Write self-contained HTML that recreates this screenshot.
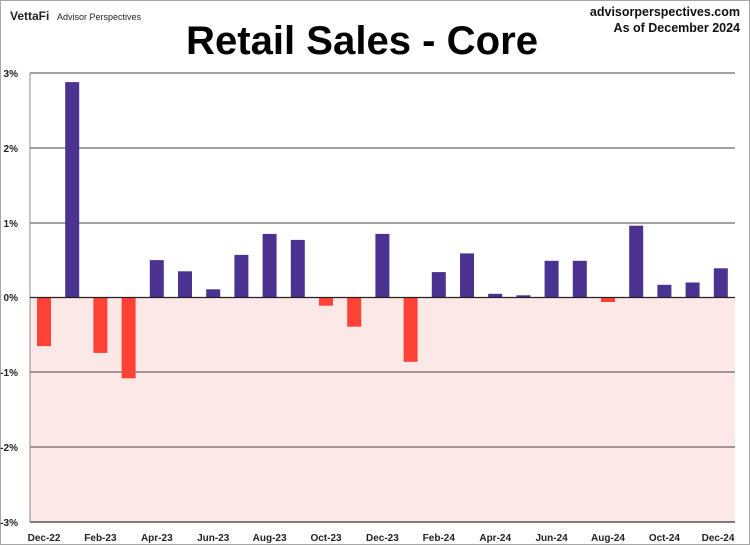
<!DOCTYPE html>
<html><head><style>
body{margin:0;background:#fff}
svg{display:block;font-family:"Liberation Sans",Arial,sans-serif}
</style></head><body>
<svg width="750" height="545" viewBox="0 0 750 545">
<rect x="0.5" y="0.5" width="749" height="544" fill="#fff" stroke="#a6a6a6"/>
<text x="10" y="20" font-size="12" font-weight="bold" fill="#222">VettaFi</text>
<text x="57" y="20" font-size="9" fill="#222">Advisor Perspectives</text>
<text x="740" y="16" font-size="12.5" font-weight="bold" text-anchor="end" fill="#111">advisorperspectives.com</text>
<text x="740" y="32" font-size="12.5" font-weight="bold" text-anchor="end" fill="#111">As of December 2024</text>
<text x="362" y="54" font-size="40" font-weight="bold" text-anchor="middle" fill="#000" textLength="352" lengthAdjust="spacingAndGlyphs">Retail Sales - Core</text>
<rect x="30" y="297.5" width="705" height="224.5" fill="#fde8e8"/>
<g stroke="#444" stroke-width="1">
<line x1="30" y1="73" x2="735" y2="73"/>
<line x1="30" y1="148" x2="735" y2="148"/>
<line x1="30" y1="223" x2="735" y2="223"/>
<line x1="30" y1="372" x2="735" y2="372"/>
<line x1="30" y1="447" x2="735" y2="447"/>
</g>
<line x1="30" y1="522" x2="735" y2="522" stroke="#555" stroke-width="1.5"/>
<line x1="30" y1="73" x2="30" y2="522" stroke="#888"/>
<g font-size="10" font-weight="bold" fill="#222" text-anchor="end">
<text x="18" y="77">3%</text><text x="18" y="152">2%</text><text x="18" y="227">1%</text>
<text x="18" y="301">0%</text><text x="18" y="376">-1%</text><text x="18" y="451">-2%</text><text x="18" y="526">-3%</text>
</g>
<g fill="#ff4136">
<rect x="37" y="297.5" width="14" height="48.6"/>
<rect x="93.4" y="297.5" width="14" height="55.4"/>
<rect x="121.6" y="297.5" width="14" height="80.8"/>
<rect x="319" y="297.5" width="14" height="8.2"/>
<rect x="347.2" y="297.5" width="14" height="29.2"/>
<rect x="403.6" y="297.5" width="14" height="64.3"/>
<rect x="601" y="297.5" width="14" height="4.5"/>
</g>
<g fill="#4a3291">
<rect x="65.2" y="82.1" width="14" height="215.4"/>
<rect x="149.8" y="260.1" width="14" height="37.4"/>
<rect x="178" y="271.3" width="14" height="26.2"/>
<rect x="206.2" y="289.3" width="14" height="8.2"/>
<rect x="234.4" y="254.9" width="14" height="42.6"/>
<rect x="262.6" y="233.9" width="14" height="63.6"/>
<rect x="290.8" y="239.9" width="14" height="57.6"/>
<rect x="375.4" y="233.9" width="14" height="63.6"/>
<rect x="431.8" y="272.1" width="14" height="25.4"/>
<rect x="460" y="253.4" width="14" height="44.1"/>
<rect x="488.2" y="293.8" width="14" height="3.7"/>
<rect x="516.4" y="295.3" width="14" height="2.2"/>
<rect x="544.6" y="260.8" width="14" height="36.7"/>
<rect x="572.8" y="260.8" width="14" height="36.7"/>
<rect x="629.2" y="225.7" width="14" height="71.8"/>
<rect x="657.4" y="284.8" width="14" height="12.7"/>
<rect x="685.6" y="282.5" width="14" height="15"/>
<rect x="713.8" y="268.3" width="14" height="29.2"/>
</g>
<line x1="30" y1="297.5" x2="735" y2="297.5" stroke="#222" stroke-width="1.2"/>
<g font-size="10" font-weight="bold" fill="#222" text-anchor="middle">
<text x="44" y="541">Dec-22</text><text x="100.4" y="541">Feb-23</text><text x="156.8" y="541">Apr-23</text>
<text x="213.2" y="541">Jun-23</text><text x="269.6" y="541">Aug-23</text><text x="326" y="541">Oct-23</text>
<text x="382.4" y="541">Dec-23</text><text x="438.8" y="541">Feb-24</text><text x="495.2" y="541">Apr-24</text>
<text x="551.6" y="541">Jun-24</text><text x="608" y="541">Aug-24</text><text x="664.4" y="541">Oct-24</text>
<text x="718" y="541">Dec-24</text>
</g>
</svg>
</body></html>
